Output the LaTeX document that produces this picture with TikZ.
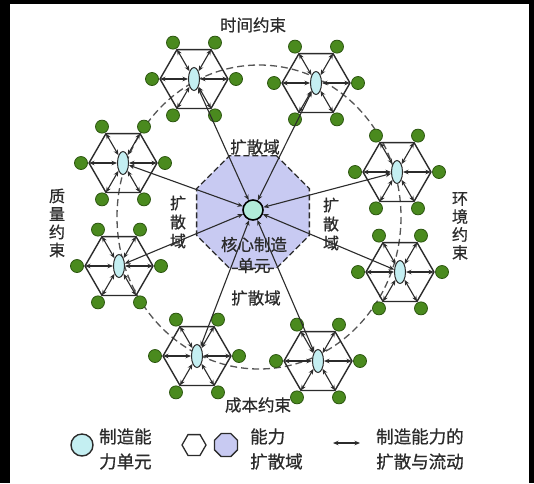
\documentclass[tikz,border=0pt]{standalone}
\usepackage{fontspec}
\setmainfont{Noto Sans CJK SC}[FakeBold=0.7]
\usetikzlibrary{shapes.geometric,arrows.meta,calc}
\definecolor{gfill}{HTML}{4A8A1E}
\definecolor{gline}{HTML}{2C5610}
\definecolor{efill}{HTML}{C4EFF2}
\definecolor{cfill}{HTML}{B2EBDA}
\definecolor{ofill}{HTML}{C8CAF2}
\definecolor{ink}{HTML}{2B2B2B}
\tikzset{
  uell/.style={ellipse, draw=ink, fill=efill, line width=1pt, minimum width=11pt, minimum height=23pt, inner sep=0pt},
  gdot/.style={circle, draw=gline, fill=gfill, line width=0.8pt, minimum size=13pt, inner sep=0pt},
  hexline/.style={draw=ink, line width=1.4pt, line join=round},
  arr/.style={draw=ink, line width=1.1pt, {Stealth[length=5.5pt,width=4.5pt]}-{Stealth[length=5.5pt,width=4.5pt]}},
  lbl/.style={text=ink, font=\fontsize{16.5}{19}\selectfont, inner sep=0pt, align=center},
  vlbl/.style={text=ink, font=\fontsize{16}{18}\selectfont, inner sep=0pt, align=center},
  leg/.style={text=ink, font=\fontsize{17.5}{25}\selectfont, inner sep=0pt, align=left, anchor=west}
}
\newcommand\hexunit[3]{%
  \coordinate (#1-c) at (#2,#3);
  \foreach \a in {0,60,...,300}{
    \coordinate (#1-v\a) at ($(#1-c)+(\a:34)$);
  }
  \draw[hexline] (#1-v0) -- (#1-v60) -- (#1-v120) -- (#1-v180) -- (#1-v240) -- (#1-v300) -- cycle;
  \node[uell] (#1) at (#1-c) {};
  \foreach \a in {0,60,...,300}{
    \draw[arr] (#1) -- (#1-v\a);
  }
  \foreach \a in {0,60,...,300}{
    \node[gdot] (#1-d\a) at ($(#1-c)+(\a:42)$) {};
  }
}
\begin{document}
\begin{tikzpicture}[x=1pt,y=-1pt]
\useasboundingbox (0,0) rectangle (534,483);
\fill[black] (0,0) rectangle (534,483);
\fill[white] (10,4) rectangle (529,483);
% big dashed orbit
\draw[draw=ink!80, line width=1.3pt, dash pattern=on 7pt off 4pt] (259,217) ellipse [x radius=142, y radius=152];
% core diffusion domain
\node[regular polygon, regular polygon sides=8, minimum size=122pt, inner sep=0pt, fill=ofill, draw=ink, line width=1.3pt, dash pattern=on 6pt off 3pt] (oct) at (253,212) {};
% units
\hexunit{uA}{194}{79}
\hexunit{uB}{316}{83}
\hexunit{uC}{123}{163}
\hexunit{uD}{119}{266}
\hexunit{uE}{397}{172}
\hexunit{uF}{400}{272}
\hexunit{uG}{197}{356}
\hexunit{uH}{318}{361}
% core
\node[circle, draw=black, fill=cfill, line width=1.6pt, minimum size=20pt, inner sep=0pt] (core) at (253,210) {};
\foreach \u in {uA,uB,uC,uD,uE,uF,uG,uH}{
  \draw[arr] (core) -- (\u);
}
% labels
\node[lbl] (tTime) at (253,25) {时间约束};
\node[lbl] (tDtop) at (255,147) {扩散域};
\node[vlbl, font=\fontsize{16}{19}\selectfont] (tDleft) at (178,222) {扩\\散\\域};
\node[vlbl, font=\fontsize{16}{19}\selectfont] (tDright) at (331,224) {扩\\散\\域};
\node[lbl, font=\fontsize{16.5}{21}\selectfont] (tCore) at (254,255) {核心制造\\单元};
\node[lbl] (tDbot) at (256,298) {扩散域};
\node[lbl] (tCost) at (258,405) {成本约束};
\node[vlbl] (tQual) at (57,223) {质\\量\\约\\束};
\node[vlbl] (tEnv) at (460,226) {环\\境\\约\\束};
% legend
\node[circle, draw=ink, fill=efill, line width=1.4pt, minimum size=22pt, inner sep=0pt] (lgC) at (82,445) {};
\node[leg] (lgCt) at (99,449) {制造能\\力单元};
\node[regular polygon, regular polygon sides=6, minimum size=24pt, inner sep=0pt, draw=ink, fill=white, line width=1.3pt] (lgH) at (194,445) {};
\node[regular polygon, regular polygon sides=8, minimum size=25pt, inner sep=0pt, draw=ink, fill=ofill, line width=1.3pt] (lgO) at (226,445) {};
\node[leg] (lgOt) at (250,449) {能力\\扩散域};
\coordinate (lgA1) at (333,443);
\coordinate (lgA2) at (360,443);
\draw[arr] (lgA1) -- (lgA2);
\node[leg] (lgAt) at (376,449) {制造能力的\\扩散与流动};
\end{tikzpicture}
\end{document}
